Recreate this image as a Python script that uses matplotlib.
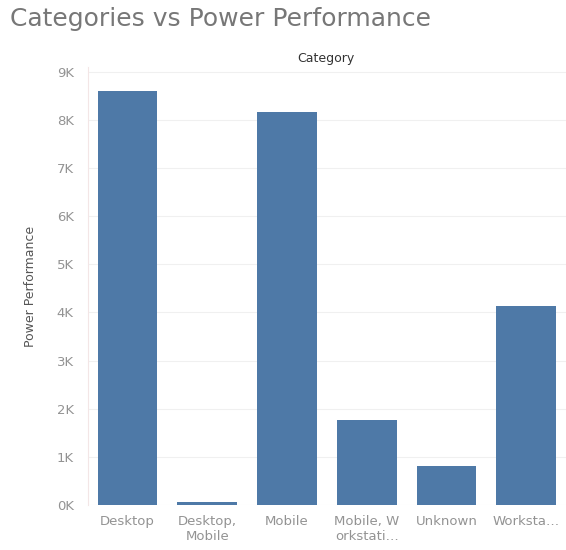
import numpy as np
import matplotlib
matplotlib.use("Agg")
import matplotlib.pyplot as plt
from matplotlib.ticker import FuncFormatter

categories = ["Desktop", "Desktop,\nMobile", "Mobile", "Mobile, W\norkstati…", "Unknown", "Worksta…"]
power_performance = [8610, 50, 8170, 1760, 810, 4130]
y_ticks = np.arange(0, 10000, 1000)

bar_color = "#4e79a7"
label_grey = "#939393"

fig = plt.figure(figsize=(5.66, 5.5), dpi=100)
ax = fig.add_axes([0.155, 0.082, 0.845, 0.796])

x = np.arange(len(categories))
ax.bar(x, power_performance, width=0.75, color=bar_color, zorder=2)

ax.set_xlim(-0.5, len(categories) - 0.5)
ax.set_ylim(0, 9100)
ax.set_yticks(y_ticks)
ax.yaxis.set_major_formatter(FuncFormatter(lambda v, _: f"{int(v / 1000)}K"))
ax.set_xticks(x, labels=categories)

ax.grid(axis="y", color="#f0f0f0", linewidth=0.8, zorder=0)
for side in ["top", "right", "bottom"]:
    ax.spines[side].set_visible(False)
ax.spines["left"].set_color("#f3e6e6")
ax.tick_params(axis="both", length=0, colors=label_grey, labelsize=9.5)
ax.tick_params(axis="y", pad=10)
ax.tick_params(axis="x", pad=7)

ax.set_ylabel("Power Performance", color="#555555", fontsize=9, labelpad=14)
fig.text(0.575, 0.894, "Category", ha="center", va="center", color="#333333", fontsize=9)
fig.text(0.018, 0.965, "Categories vs Power Performance", ha="left", va="center",
         color="#777777", fontsize=18)

fig.savefig("out.png", dpi=100)
